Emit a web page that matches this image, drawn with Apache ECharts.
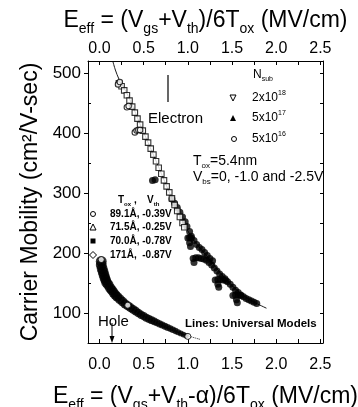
<!DOCTYPE html>
<html>
<head>
<meta charset="utf-8">
<script src="https://cdn.jsdelivr.net/npm/echarts@6/dist/echarts.min.js"></script>
<style>
  html, body { margin: 0; padding: 0; background: #fff; }
  #chart { width: 358px; height: 407px; }
</style>
</head>
<body>
<div id="chart"></div>
<script>
const FONT = '"Liberation Sans", Arial, sans-serif'

// axis ticks
const xLabels = [0, 0.5, 1.0, 1.5, 2.0, 2.5]
const xTicks = [0, 0.25, 0.5, 0.75, 1.0, 1.25, 1.5, 1.75, 2.0, 2.25, 2.5]
const yLabels = [100, 200, 300, 400, 500]
const yMinor = [150, 250, 350, 450]
const yRightTicks = [100, 150, 200, 250, 300, 350, 400, 450, 500]

// electrons, open squares
const elecOpen = [
  [0.22, 483], [0.25, 478], [0.28, 471], [0.31, 463], [0.34, 454], [0.37, 444],
  [0.40, 434], [0.43, 424], [0.46, 414], [0.49, 404], [0.52, 394], [0.55, 384],
  [0.58, 374], [0.61, 364], [0.64, 353], [0.67, 342], [0.70, 332], [0.73, 321],
  [0.76, 311], [0.79, 301], [0.82, 291], [0.85, 280], [0.88, 270], [0.91, 260],
  [0.94, 250], [0.96, 243]
]
// electrons, open circles (low field starts)
const elecOpenHooks = [
  [0.21, 481], [0.23, 485], [0.31, 443], [0.33, 445],
  [0.40, 401], [0.42, 404], [0.44, 405], [0.46, 405]
]
// electrons, filled, upper band
const elecFilledA = [
  [0.82, 290], [0.85, 283], [0.88, 276], [0.91, 268], [0.94, 260], [0.97, 252],
  [0.99, 244], [1.02, 236], [1.04, 228], [1.07, 221], [1.10, 214], [1.13, 209],
  [1.16, 206], [1.19, 201], [1.22, 196], [1.25, 191], [1.28, 187],
  [0.60, 321], [0.63, 322],
  [1.00, 225], [1.02, 226], [1.04, 225], [1.02, 217], [1.03, 211]
]
// electrons, filled, lower band
const elecFilledB = [
  [1.06, 191], [1.09, 192], [1.12, 192], [1.15, 191], [1.18, 190], [1.21, 188],
  [1.24, 184], [1.27, 180], [1.30, 175], [1.33, 170], [1.36, 165], [1.39, 161],
  [1.42, 157], [1.45, 152], [1.48, 148], [1.51, 143], [1.54, 138], [1.57, 134],
  [1.60, 130], [1.63, 127], [1.66, 124], [1.69, 122], [1.72, 120], [1.75, 118],
  [1.78, 116],
  [1.07, 184],
  [1.31, 155], [1.34, 156], [1.37, 156], [1.40, 155], [1.43, 154], [1.34, 148], [1.35, 143],
  [1.51, 129], [1.54, 130], [1.57, 130], [1.60, 129], [1.55, 122], [1.56, 117]
]
// electron universal model
const elecModel = [
  [0.15, 520], [0.18, 505], [0.22, 490], [0.27, 477], [0.32, 463], [0.37, 447],
  [0.45, 418], [0.55, 384], [0.65, 350], [0.75, 315], [0.85, 281], [0.95, 250],
  [1.05, 225], [1.15, 206], [1.25, 189], [1.35, 170], [1.45, 153], [1.55, 139],
  [1.65, 127], [1.75, 118], [1.89, 108]
]

// holes
const holeData = [
  [0.02, 186], [0.02, 180], [0.03, 174], [0.04, 169], [0.05, 164], [0.06, 159],
  [0.07, 155], [0.08, 151], [0.10, 147], [0.12, 142], [0.14, 138], [0.16, 134],
  [0.18, 130], [0.20, 127], [0.23, 123], [0.26, 119], [0.29, 115], [0.32, 112],
  [0.35, 109], [0.38, 106], [0.41, 103], [0.44, 100], [0.47, 97], [0.50, 95],
  [0.53, 92], [0.56, 90], [0.59, 88], [0.62, 86], [0.65, 84], [0.68, 82],
  [0.71, 80], [0.74, 78], [0.77, 76], [0.80, 74], [0.83, 72], [0.86, 70],
  [0.89, 68], [0.92, 66], [0.95, 64], [0.98, 62]
]
const holeOpen = [[0.02, 189], [0.32, 113], [1.00, 61]]
const holeModel = [
  [0.02, 186], [0.06, 159], [0.12, 142], [0.20, 127], [0.32, 112], [0.50, 95],
  [0.70, 80], [0.90, 67], [1.00, 62], [1.14, 56]
]

function richFor(F, weight) {
  const S = Math.round(F * 0.6)
  const a = Math.round(F * 0.2)
  const base = { fontFamily: FONT, fontWeight: weight || 'normal', color: '#000', verticalAlign: 'top' }
  return {
    m: Object.assign({}, base, { fontSize: F, lineHeight: F, padding: [a, 0, 0, 0] }),
    s: Object.assign({}, base, { fontSize: S, lineHeight: S, padding: [Math.round(a + 0.55 * F), 0, 0, 0] }),
    p: Object.assign({}, base, { fontSize: S, lineHeight: S, padding: [Math.max(0, Math.round(a - 0.2 * F)), 0, 0, 0] })
  }
}

function label(x, yc, F, text, weight) {
  const a = Math.round(F * 0.2)
  return {
    type: 'text', x: x, y: Math.round(yc - a - F / 2), z: 100,
    style: { text: text, rich: richFor(F, weight) }
  }
}

const axisLine = { show: true, onZero: false, lineStyle: { color: '#000', width: 1 } }

function xAxisOf(pos, name, gap, margin) {
  return {
    type: 'value', position: pos, min: -0.13, max: 2.53,
    axisLine: axisLine,
    axisTick: { show: true, inside: true, length: 4, customValues: xTicks, lineStyle: { color: '#000' } },
    axisLabel: {
      show: true, customValues: xLabels, margin: margin,
      formatter: v => v.toFixed(1), fontSize: 16, fontFamily: FONT, color: '#000'
    },
    splitLine: { show: false },
    name: name, nameLocation: 'middle', nameGap: gap,
    nameTextStyle: { rich: richFor(23) }
  }
}

const chart = echarts.init(document.getElementById('chart'))
chart.setOption({
  animation: false,
  backgroundColor: '#fff',
  grid: { left: 88, right: 35, top: 61, bottom: 64, containLabel: false, outerBoundsMode: 'none' },
  xAxis: [
    xAxisOf('bottom', '{m|E}{s|eff}{m| = (V}{s|gs}{m|+V}{s|th}{m|-α)/6T}{s|ox}{m| (MV/cm)}', 37, 14),
    xAxisOf('top', '{m|E}{s|eff}{m| = (V}{s|gs}{m|+V}{s|th}{m|)/6T}{s|ox}{m| (MV/cm)}', 19, 4)
  ],
  yAxis: [
    {
      type: 'value', position: 'left', min: 50, max: 520,
      axisLine: axisLine,
      axisTick: { show: true, inside: false, length: 4, customValues: yLabels, lineStyle: { color: '#000' } },
      axisLabel: { show: true, customValues: yLabels, margin: 7, fontSize: 17, fontFamily: FONT, color: '#000' },
      splitLine: { show: false },
      name: 'Carrier Mobility (cm²/V-sec)', nameLocation: 'middle', nameGap: 42,
      nameTextStyle: { fontSize: 23, fontFamily: FONT, color: '#000' }
    },
    {
      type: 'value', position: 'right', min: 50, max: 520,
      axisLine: axisLine,
      axisTick: { show: true, inside: true, length: 3, customValues: yRightTicks, lineStyle: { color: '#000' } },
      axisLabel: { show: false },
      splitLine: { show: false }
    },
    {
      type: 'value', position: 'left', min: 50, max: 520,
      axisLine: { show: false, onZero: false },
      axisTick: { show: true, inside: true, length: 3, customValues: yMinor, lineStyle: { color: '#000' } },
      axisLabel: { show: false },
      splitLine: { show: false }
    }
  ],
  series: [
    {
      name: 'electron model', type: 'line', data: elecModel, smooth: 0.3, showSymbol: false, z: 1,
      lineStyle: { color: '#000', width: 0.9 }
    },
    {
      name: 'hole model', type: 'line', data: holeModel, smooth: 0.3, showSymbol: false, z: 1,
      lineStyle: { color: '#222', width: 1, type: 'dotted' }
    },
    {
      name: 'holes', type: 'scatter', data: holeData, symbol: 'circle', z: 2,
      symbolSize: v => 11 - 5.5 * v[0],
      itemStyle: { color: '#000' }
    },
    {
      name: 'holes open', type: 'scatter', data: holeOpen, symbol: 'circle', symbolSize: 6, z: 4,
      itemStyle: { color: '#fff', borderColor: '#000', borderWidth: 1 }
    },
    {
      name: 'electron filled A', type: 'scatter', data: elecFilledA, symbol: 'circle', symbolSize: 7, z: 2,
      itemStyle: { color: '#000' }
    },
    {
      name: 'electron filled B', type: 'scatter', data: elecFilledB, symbol: 'circle', symbolSize: 7, z: 2,
      itemStyle: { color: '#000' }
    },
    {
      name: 'electron open', type: 'scatter', data: elecOpen, symbol: 'rect', symbolSize: 5.5, z: 3,
      itemStyle: { color: '#fff', borderColor: '#000', borderWidth: 1.1 }
    },
    {
      name: 'electron open hooks', type: 'scatter', data: elecOpenHooks, symbol: 'circle', symbolSize: 5.5, z: 3,
      itemStyle: { color: '#fff', borderColor: '#000', borderWidth: 1.1 }
    }
  ],
  graphic: [
    label(148, 118, 15, '{m|Electron}'),
    { type: 'line', shape: { x1: 168, y1: 75, x2: 168, y2: 102 }, style: { stroke: '#000', lineWidth: 1.2 } },
    label(98, 321, 15, '{m|Hole}'),
    { type: 'line', shape: { x1: 112, y1: 323, x2: 112, y2: 338 }, style: { stroke: '#000', lineWidth: 1 } },
    { type: 'polygon', shape: { points: [[109.5, 336], [114.5, 336], [112, 343]] }, style: { fill: '#000' } },

    label(253, 75, 12, '{m|N}{s|sub}'),
    { type: 'polygon', shape: { points: [[230, 95], [236, 95], [233, 101]] }, style: { fill: '#fff', stroke: '#000', lineWidth: 1 } },
    label(252, 98, 12, '{m|2x10}{p|18}'),
    { type: 'polygon', shape: { points: [[230, 121], [236, 121], [233, 115]] }, style: { fill: '#000' } },
    label(252, 118, 12, '{m|5x10}{p|17}'),
    { type: 'circle', shape: { cx: 234, cy: 139, r: 2.5 }, style: { fill: '#fff', stroke: '#000', lineWidth: 1 } },
    label(252, 139, 12, '{m|5x10}{p|16}'),

    label(193, 161, 14, '{m|T}{s|ox}{m|=5.4nm}'),
    label(193, 177, 14, '{m|V}{s|bs}{m|=0, -1.0 and -2.5V}'),

    label(118, 200, 10, '{m|T}{s|ox}{m| ,}', 'bold'),
    label(147, 200, 10, '{m|V}{s|th}', 'bold'),
    { type: 'circle', shape: { cx: 93, cy: 214, r: 2.5 }, style: { fill: '#fff', stroke: '#000', lineWidth: 1 } },
    label(110, 214, 10, '{m|89.1Å, -0.39V}', 'bold'),
    { type: 'polygon', shape: { points: [[90, 230], [96, 230], [93, 224]] }, style: { fill: '#fff', stroke: '#000', lineWidth: 1 } },
    label(110, 227, 10, '{m|71.5Å, -0.25V}', 'bold'),
    { type: 'rect', shape: { x: 90.5, y: 238.5, width: 5, height: 5 }, style: { fill: '#000' } },
    label(110, 241, 10, '{m|70.0Å, -0.78V}', 'bold'),
    { type: 'polygon', shape: { points: [[93, 251.5], [96.5, 255], [93, 258.5], [89.5, 255]] }, style: { fill: '#fff', stroke: '#000', lineWidth: 1 } },
    label(110, 255, 10, '{m|171Å,  -0.87V}', 'bold'),

    label(185, 324, 11.5, '{m|Lines: Universal Models}', 'bold')
  ]
})
</script>
</body>
</html>
